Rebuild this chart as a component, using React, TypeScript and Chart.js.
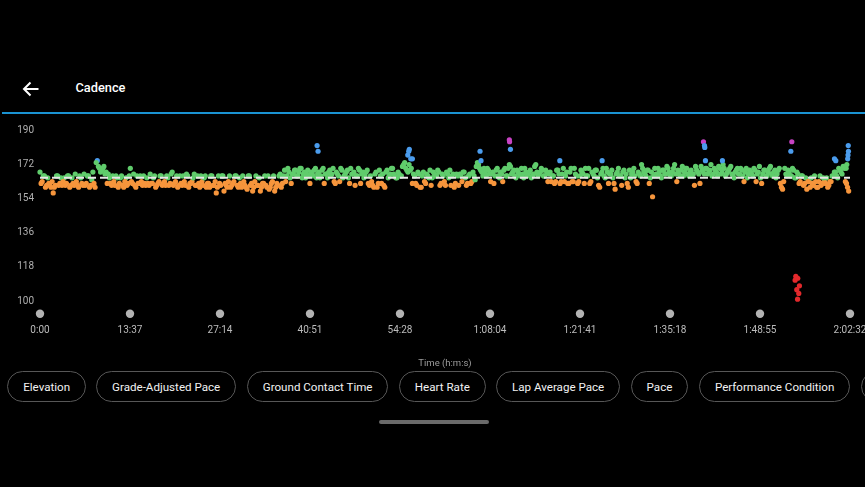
import React, { useEffect, useRef } from 'react';
import { Chart, registerables } from 'chart.js';

Chart.register(...registerables);

// ---------- data ----------
const TOTAL_SECONDS = 7352;
const SAMPLE_STEP = 20; // seconds between cadence samples in each array
const HALF_STEP_OFFSET = 10; // second array is sampled half-way between the first
const AVERAGE_CADENCE = 165;

// samples at 0, 20, 40 ... s
const cadence: number[] = [
  168, 163, 166, 161, 162, 160, 157, 161, 166, 162,
  161, 165, 162, 166, 161, 162, 167, 161, 166, 162,
  167, 162, 166, 161, 168, 160, 174, 170, 169, 171,
  168, 167, 162, 166, 161, 165, 162, 166, 160, 165,
  162, 170, 162, 161, 166, 162, 163, 166, 161, 162,
  167, 162, 166, 161, 163, 166, 162, 161, 165, 162,
  168, 162, 166, 161, 162, 166, 161, 166, 162, 163,
  167, 161, 162, 166, 161, 166, 162, 160, 166, 161,
  157, 166, 161, 166, 162, 160, 166, 161, 163, 166,
  160, 162, 166, 161, 159, 166, 162, 160, 166, 161,
  158, 162, 166, 160, 159, 162, 166, 160, 161, 167,
  162, 169, 166, 168, 162, 167, 169, 166, 170, 165,
  168, 167, 166, 168, 166, 170, 167, 165, 169, 162,
  167, 168, 166, 170, 162, 167, 163, 169, 166, 168,
  165, 170, 167, 161, 166, 169, 167, 165, 168, 162,
  166, 161, 167, 160, 169, 162, 161, 168, 165, 167,
  170, 166, 165, 167, 166, 172, 170, 168, 169, 162,
  166, 161, 167, 160, 168, 162, 166, 169, 165, 167,
  166, 168, 162, 166, 161, 167, 169, 166, 160, 167,
  161, 166, 168, 165, 162, 167, 163, 166, 171, 172,
  169, 166, 168, 170, 167, 167, 162, 169, 166, 168,
  163, 170, 166, 172, 167, 169, 165, 168, 166, 167,
  170, 166, 168, 165, 167, 172, 166, 168, 169, 166,
  168, 167, 163, 166, 163, 169, 162, 167, 163, 168,
  162, 170, 163, 167, 162, 166, 168, 162, 166, 170,
  163, 167, 169, 165, 160, 168, 166, 170, 162, 167,
  165, 159, 168, 166, 161, 169, 167, 160, 165, 168,
  166, 162, 167, 172, 168, 166, 169, 165, 155, 170,
  166, 168, 165, 169, 167, 170, 166, 168, 172, 163,
  167, 169, 166, 170, 167, 168, 166, 161, 169, 167,
  171, 168, 170, 167, 169, 166, 170, 168, 171, 167,
  172, 166, 168, 170, 167, 165, 169, 167, 170, 166,
  168, 165, 169, 167, 170, 163, 168, 165, 167, 169,
  166, 170, 167, 168, 165, 169, 162, 159, 170, 166,
  168, 166, 169, 165, 167, 163, 166, 162, 159, 163,
  165, 161, 163, 160, 166, 162, 163, 165, 161, 163,
  166, 168, 165, 169, 167, 170, 162, 158,
];

// samples at 10, 30, 50 ... s
const cadenceHalf: number[] = [
  162, 166, 160, 165, 161, 163, 160, 166, 161, 165,
  163, 161, 166, 160, 165, 161, 163, 160, 165, 161,
  161, 166, 160, 164, 162, 173, 171, 168, 170, 167,
  162, 165, 161, 163, 166, 160, 165, 161, 163, 161,
  166, 163, 167, 160, 162, 166, 161, 162, 165, 161,
  162, 165, 160, 162, 166, 161, 163, 166, 161, 167,
  161, 163, 160, 166, 161, 163, 167, 160, 162, 165,
  161, 166, 160, 163, 165, 160, 162, 166, 161, 163,
  160, 162, 166, 158, 161, 163, 160, 162, 166, 161,
  165, 160, 163, 160, 166, 161, 158, 163, 161, 165,
  160, 162, 161, 166, 160, 163, 158, 162, 166, 160,
  166, 163, 170, 165, 167, 169, 166, 168, 170, 167,
  165, 169, 162, 167, 169, 165, 168, 166, 170, 167,
  165, 169, 167, 163, 168, 166, 170, 165, 167, 169,
  162, 167, 168, 166, 170, 162, 168, 166, 169, 161,
  163, 160, 168, 162, 166, 167, 160, 169, 166, 170,
  167, 165, 168, 166, 171, 173, 169, 172, 170, 167,
  162, 168, 160, 166, 163, 167, 165, 161, 168, 166,
  169, 161, 167, 163, 168, 165, 161, 167, 162, 166,
  167, 163, 168, 161, 166, 162, 168, 164, 173, 170,
  168, 170, 166, 169, 163, 168, 166, 170, 165, 167,
  169, 166, 170, 171, 168, 166, 169, 167, 170, 165,
  168, 167, 169, 166, 171, 168, 167, 170, 166, 169,
  163, 168, 166, 162, 169, 167, 163, 170, 166, 162,
  168, 163, 170, 166, 163, 169, 167, 170, 166, 162,
  168, 166, 169, 161, 167, 170, 165, 168, 167, 169,
  162, 167, 170, 166, 168, 165, 162, 169, 167, 170,
  163, 168, 166, 170, 167, 169, 162, 168, 166, 167,
  170, 166, 169, 167, 171, 168, 166, 170, 167, 169,
  166, 171, 168, 170, 166, 169, 167, 171, 168, 162,
  169, 167, 170, 168, 172, 167, 169, 166, 170, 168,
  170, 167, 169, 171, 166, 168, 170, 167, 169, 163,
  170, 167, 168, 166, 169, 167, 171, 162, 169, 166,
  168, 171, 166, 169, 167, 170, 160, 163, 167, 169,
  166, 170, 165, 168, 162, 166, 161, 165, 163, 160,
  162, 166, 160, 163, 161, 165, 162, 160, 163, 166,
  168, 166, 170, 168, 171, 163, 160,
];

// short spikes (seconds, spm)
const spikeTimes: number[] = [
  2515, 2524,
  3338, 3347, 3352, 3365, 3380,
  3994, 4003,
  4260, 4262, 4270,
  4718, 5102,
  6022, 6031, 6034, 6040, 6194,
  6815, 6824,
  6854, 6860, 6869, 6878, 6876, 6887, 6893,
  7211, 7223,
  7317, 7323, 7331, 7334, 7336, 7338,
];
const spikeCadence: number[] = [
  182, 179,
  177, 179, 180, 175, 175,
  179, 174,
  185, 184, 180,
  174, 174,
  184, 182, 181, 174, 174,
  179, 184,
  111, 113, 106, 112, 101, 104, 108,
  175, 174,
  170, 172, 175, 177, 182, 179,
];

const yTickValues: number[] = [100, 118, 136, 154, 172, 190];
const xTickLabels: string[] = [
  '0:00', '13:37', '27:14', '40:51', '54:28',
  '1:08:04', '1:21:41', '1:35:18', '1:48:55', '2:02:32',
];
const chipLabels: string[] = [
  'Elevation', 'Grade-Adjusted Pace', 'Ground Contact Time', 'Heart Rate',
  'Lap Average Pace', 'Pace', 'Performance Condition', 'Power',
];

// ---------- styling / layout ----------
const FONT = 'Roboto, "Noto Sans", sans-serif';
const chipLefts = [7.3, 96.3, 247, 399, 496.3, 630.7, 699.3, 861];
const chipWidths = [78.7, 139.7, 141.3, 86.7, 123.7, 57.6, 150.7, 90];

function zoneColor(v: number): string {
  if (v >= 184) return '#c843c4';
  if (v >= 174) return '#4b9ced';
  if (v >= 164) return '#60cc6c';
  if (v >= 153) return '#f6953c';
  return '#e3292c';
}

const axisDots = {
  id: 'axisDots',
  afterDraw(chart: any) {
    const { ctx, chartArea, scales } = chart;
    const xs = scales.x;
    ctx.save();
    ctx.fillStyle = '#b3b3b3';
    xs.ticks.forEach((t: any) => {
      ctx.beginPath();
      ctx.arc(xs.getPixelForValue(t.value), chartArea.bottom + 1.3, 4.2, 0, Math.PI * 2);
      ctx.fill();
    });
    ctx.restore();
  },
};

function CadenceChart() {
  const ref = useRef<HTMLCanvasElement | null>(null);
  useEffect(() => {
    if (!ref.current) return;
    const mainPts = [
      ...cadence.map((v, i) => ({ x: i * SAMPLE_STEP, y: v })),
      ...cadenceHalf.map((v, i) => ({ x: i * SAMPLE_STEP + HALF_STEP_OFFSET, y: v })),
    ];
    const spikePts = spikeTimes.map((t, i) => ({ x: t, y: spikeCadence[i] }));
    const chart = new Chart(ref.current, {
      type: 'scatter',
      data: {
        datasets: [
          {
            data: [{ x: 0, y: AVERAGE_CADENCE }, { x: TOTAL_SECONDS, y: AVERAGE_CADENCE }],
            showLine: true,
            borderColor: '#e6e6e6',
            borderWidth: 2,
            borderDash: [8, 4],
            pointRadius: 0,
            order: 0,
            clip: false,
          } as any,
          {
            data: spikePts,
            pointRadius: 2.6,
            borderWidth: 0,
            backgroundColor: spikePts.map((p) => zoneColor(p.y)),
            order: 1,
            clip: false,
          },
          {
            data: mainPts,
            pointRadius: 2.6,
            borderWidth: 0,
            backgroundColor: mainPts.map((p) => zoneColor(p.y)),
            order: 2,
            clip: false,
          },
        ],
      },
      options: {
        animation: false,
        responsive: false,
        maintainAspectRatio: false,
        events: [],
        layout: { padding: { top: 3.6, right: 35, left: 0, bottom: 0 } },
        plugins: { legend: { display: false }, tooltip: { enabled: false } },
        scales: {
          x: {
            type: 'linear',
            min: 0,
            max: TOTAL_SECONDS,
            grid: { display: false, drawTicks: false },
            border: { display: false },
            afterBuildTicks: (s: any) => {
              s.ticks = xTickLabels.map((_, i) => ({ value: (i * TOTAL_SECONDS) / (xTickLabels.length - 1) }));
            },
            afterFit: (s: any) => {
              s.height = 57.6;
              s.paddingLeft = 0;
              s.paddingRight = 0;
            },
            ticks: {
              autoSkip: false,
              maxRotation: 0,
              padding: 12,
              color: '#bcbcbc',
              font: { family: FONT, size: 10 },
              callback: (_v: any, i: number) => xTickLabels[i],
            },
            title: {
              display: true,
              text: 'Time (h:m:s)',
              color: '#9c9c9c',
              font: { family: FONT, size: 9.5 },
              padding: { top: 0, bottom: 1 },
            },
          },
          y: {
            min: 94,
            max: 196,
            grid: { display: false, drawTicks: false },
            border: { display: false },
            afterBuildTicks: (s: any) => {
              s.ticks = yTickValues.map((v) => ({ value: v }));
            },
            afterFit: (s: any) => {
              s.width = 40;
              s.paddingTop = 0;
              s.paddingBottom = 0;
            },
            ticks: {
              padding: 6,
              color: '#b0b0b0',
              font: { family: FONT, size: 10 },
            },
          },
        },
      } as any,
      plugins: [axisDots],
    });
    return () => chart.destroy();
  }, []);
  return (
    <canvas
      ref={ref}
      width={885}
      height={255}
      style={{ position: 'absolute', left: 0, top: 115, width: 885, height: 255 }}
    />
  );
}

export default function App() {
  return (
    <div
      style={{
        position: 'fixed',
        left: 0,
        top: 0,
        width: 865,
        height: 487,
        background: '#000',
        overflow: 'hidden',
        fontFamily: FONT,
        color: '#fff',
      }}
    >
      <svg
        width={18}
        height={16}
        viewBox="0 0 18 16"
        style={{ position: 'absolute', left: 21.5, top: 80.5 }}
      >
        <path d="M16.5 8 H2 M8.5 1.5 L2 8 L8.5 14.5" stroke="#fff" strokeWidth={2} fill="none" />
      </svg>
      <div
        style={{
          position: 'absolute',
          left: 75.5,
          top: 80,
          fontSize: 12.8,
          fontWeight: 500,
          lineHeight: '16px',
        }}
      >
        Cadence
      </div>
      <div
        style={{
          position: 'absolute',
          left: 2,
          top: 111.5,
          width: 863,
          height: 2.5,
          background: '#1a93d2',
        }}
      />
      <CadenceChart />
      {chipLabels.map((c, i) => (
        <div
          key={c}
          style={{
            position: 'absolute',
            left: chipLefts[i],
            top: 371,
            width: chipWidths[i],
            height: 31,
            boxSizing: 'border-box',
            border: '1px solid #575757',
            borderRadius: 16,
            display: 'flex',
            alignItems: 'center',
            justifyContent: 'center',
            whiteSpace: 'nowrap',
            overflow: 'hidden',
            fontSize: 11.6,
            color: '#f2f2f2',
          }}
        >
          {c}
        </div>
      ))}
      <div
        style={{
          position: 'absolute',
          left: 378.5,
          top: 420,
          width: 110,
          height: 4,
          borderRadius: 2,
          background: '#6a6a6a',
        }}
      />
    </div>
  );
}
